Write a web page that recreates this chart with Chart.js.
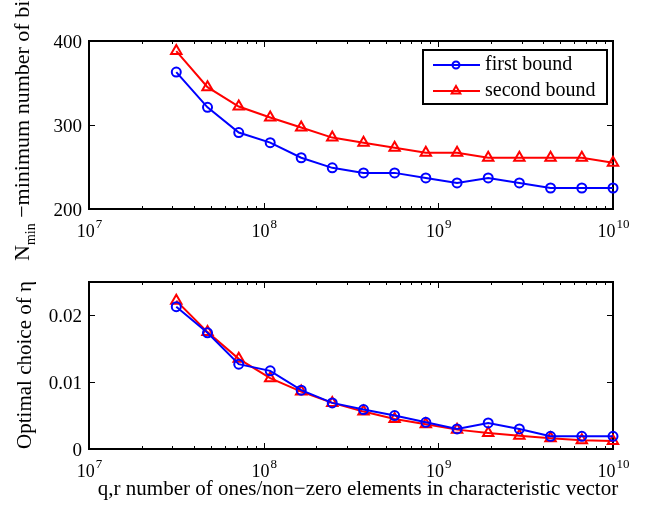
<!DOCTYPE html>
<html>
<head>
<meta charset="utf-8">
<script src="https://cdn.jsdelivr.net/npm/chart.js@4/dist/chart.umd.min.js"></script>
<style>
  html, body { margin: 0; padding: 0; background: #fff; }
  #wrap { position: relative; width: 650px; height: 508px; overflow: hidden; }
  #wrap div { position: absolute; left: 0; width: 650px; }
</style>
</head>
<body>
<div id="wrap">
  <div style="top:0;height:270px"><canvas id="topChart"></canvas></div>
  <div style="top:270px;height:238px"><canvas id="bottomChart"></canvas></div>
</div>
<script>
// q,r values (log x axis), same for both panels
const qValues = [3.16e7, 4.77e7, 7.2e7, 1.09e8, 1.64e8, 2.47e8, 3.73e8, 5.62e8,
                 8.48e8, 1.28e9, 1.93e9, 2.91e9, 4.39e9, 6.63e9, 1e10];

// top panel: N_min
const nminFirst  = [363, 321, 291, 279, 261, 249, 243, 243, 237, 231, 237, 231, 225, 225, 225];
const nminSecond = [388, 345, 322, 309, 297, 285, 279, 273, 267, 267, 261, 261, 261, 261, 255];

// bottom panel: optimal eta
const etaFirst  = [0.0213, 0.0174, 0.0127, 0.0117, 0.0088, 0.0069, 0.0059, 0.0050,
                   0.0040, 0.0030, 0.0039, 0.0030, 0.0019, 0.0019, 0.0019];
const etaSecond = [0.0222, 0.0175, 0.0135, 0.0106, 0.0086, 0.0069, 0.0056, 0.0045,
                   0.0037, 0.0029, 0.0024, 0.0020, 0.0016, 0.0013, 0.0012];

const xExponents = [7, 8, 9, 10];
const topYTicks = [200, 300, 400];
const topYLabels = ['200', '300', '400'];
const bottomYTicks = [0, 0.01, 0.02];
const bottomYLabels = ['0', '0.01', '0.02'];
const seriesNames = ['first bound', 'second bound'];

const blue = '#0000ff';
const red = '#ff0000';
const FONT = '"Liberation Serif", "Times New Roman", serif';

function pts(ys) {
    return qValues.map((q, i) => ({ x: q, y: ys[i] }));
}

function makeDataset(label, ys, color, style, radius) {
    return {
        label: label,
        data: pts(ys),
        borderColor: color,
        borderWidth: 2,
        backgroundColor: 'transparent',
        pointStyle: style,
        pointRadius: radius,
        pointBorderWidth: 2,
        pointBorderColor: color,
        pointBackgroundColor: 'transparent',
        tension: 0,
        clip: false
    };
}

// draws the matlab style box, inward ticks, tick labels, axis titles and legend
const matlabAxes = {
    id: 'matlabAxes',
    beforeDatasetsDraw(chart, args, opts) {
        const ctx = chart.ctx;
        const a = chart.chartArea;
        const xs = chart.scales.x, ys = chart.scales.y;
        ctx.save();
        ctx.strokeStyle = '#000';
        ctx.lineWidth = 2;
        ctx.strokeRect(a.left, a.top, a.right - a.left, a.bottom - a.top);

        ctx.lineWidth = 1;
        ctx.beginPath();
        // x ticks, major and minor, top and bottom
        for (let e = 7; e < 10; e++) {
            for (let m = 1; m < 10; m++) {
                const px = Math.round(xs.getPixelForValue(m * Math.pow(10, e))) + 0.5;
                const len = m == 1 ? 6 : 3;
                ctx.moveTo(px, a.bottom); ctx.lineTo(px, a.bottom - len);
                ctx.moveTo(px, a.top); ctx.lineTo(px, a.top + len);
            }
        }
        // y ticks, left and right
        opts.yTicks.forEach(v => {
            const py = Math.round(ys.getPixelForValue(v)) + 0.5;
            ctx.moveTo(a.left, py); ctx.lineTo(a.left + 6, py);
            ctx.moveTo(a.right, py); ctx.lineTo(a.right - 6, py);
        });
        ctx.stroke();

        ctx.fillStyle = '#000';
        // x tick labels 10^e
        xExponents.forEach(e => {
            const px = xs.getPixelForValue(Math.pow(10, e));
            ctx.font = '18px ' + FONT;
            const w1 = ctx.measureText('10').width;
            ctx.font = '13px ' + FONT;
            const w2 = ctx.measureText(String(e)).width;
            const x0 = px - (w1 + w2) / 2;
            ctx.textAlign = 'left';
            ctx.textBaseline = 'alphabetic';
            ctx.font = '18px ' + FONT;
            ctx.fillText('10', x0, a.bottom + 28);
            ctx.font = '13px ' + FONT;
            ctx.fillText(String(e), x0 + w1 + 1, a.bottom + 19);
        });
        // y tick labels
        ctx.font = '19px ' + FONT;
        ctx.textAlign = 'right';
        ctx.textBaseline = 'middle';
        opts.yTicks.forEach((v, i) => {
            ctx.fillText(opts.yLabels[i], a.left - 7, ys.getPixelForValue(v) + 2);
        });

        // y axis title, rotated
        ctx.save();
        ctx.translate(opts.yTitleX, opts.yTitleY);
        ctx.rotate(-Math.PI / 2);
        ctx.textBaseline = 'alphabetic';
        ctx.font = '21px ' + FONT;
        if (opts.yTitleAlign == 'left') {
            ctx.textAlign = 'left';
            let x = 0;
            opts.yTitleParts.forEach(p => {
                ctx.font = (p.sub ? '14px ' : '22px ') + FONT;
                ctx.fillText(p.t, x, p.sub ? 6 : 0);
                x += ctx.measureText(p.t).width;
            });
        } else {
            ctx.textAlign = 'center';
            ctx.fillText(opts.yTitle, 0, 0);
        }
        ctx.restore();

        // x axis title
        if (opts.xTitle) {
            ctx.font = '21px ' + FONT;
            ctx.textAlign = 'center';
            ctx.textBaseline = 'alphabetic';
            ctx.fillText(opts.xTitle, opts.xTitleX, opts.xTitleY);
        }
        ctx.restore();
    },
    afterDraw(chart, args, opts) {
        if (!opts.legend) return;
        const ctx = chart.ctx;
        const L = opts.legend;
        ctx.save();
        ctx.fillStyle = '#fff';
        ctx.fillRect(L.x, L.y, L.w, L.h);
        ctx.strokeStyle = '#000';
        ctx.lineWidth = 2;
        ctx.strokeRect(L.x, L.y, L.w, L.h);
        chart.data.datasets.forEach((ds, i) => {
            const cy = L.y + 15 + i * 26;
            ctx.strokeStyle = ds.borderColor;
            ctx.lineWidth = 2;
            ctx.beginPath();
            ctx.moveTo(L.x + 10, cy);
            ctx.lineTo(L.x + 57, cy);
            ctx.stroke();
            ctx.fillStyle = 'rgba(0,0,0,0)';
            Chart.helpers.drawPoint(ctx, {
                pointStyle: ds.pointStyle,
                radius: ds.pointRadius - 1,
                borderWidth: 2,
                rotation: 0
            }, L.x + 33, cy);
            ctx.fillStyle = '#000';
            ctx.font = '20px ' + FONT;
            ctx.textAlign = 'left';
            ctx.textBaseline = 'middle';
            ctx.fillText(ds.label, L.x + 62, cy);
        });
        ctx.restore();
    }
};

function baseOptions(padTop, padBottom, yMin, yMax, axisOpts) {
    return {
        responsive: true,
        maintainAspectRatio: false,
        animation: false,
        layout: { padding: { left: 89, right: 37, top: padTop, bottom: padBottom } },
        scales: {
            x: { type: 'logarithmic', min: 1e7, max: 1e10, display: false },
            y: { type: 'linear', min: yMin, max: yMax, display: false }
        },
        plugins: {
            legend: { display: false },
            tooltip: { enabled: false },
            matlabAxes: axisOpts
        }
    };
}

new Chart(document.getElementById('topChart'), {
    type: 'line',
    data: {
        datasets: [
            makeDataset(seriesNames[0], nminFirst, blue, 'circle', 4.5),
            makeDataset(seriesNames[1], nminSecond, red, 'triangle', 6)
        ]
    },
    options: baseOptions(41, 61, 200, 400, {
        yTicks: topYTicks,
        yLabels: topYLabels,
        yTitleAlign: 'left',
        yTitleX: 29,
        yTitleY: 261,
        yTitleParts: [{ t: 'N' }, { t: 'min', sub: true }, { t: ' \u2212minimum number of bits' }],
        legend: { x: 423, y: 50, w: 184, h: 54 }
    }),
    plugins: [matlabAxes]
});

new Chart(document.getElementById('bottomChart'), {
    type: 'line',
    data: {
        datasets: [
            makeDataset(seriesNames[0], etaFirst, blue, 'circle', 4.5),
            makeDataset(seriesNames[1], etaSecond, red, 'triangle', 6)
        ]
    },
    options: baseOptions(12, 59, 0, 0.025, {
        yTicks: bottomYTicks,
        yLabels: bottomYLabels,
        yTitleAlign: 'center',
        yTitleX: 31,
        yTitleY: 95,
        yTitle: 'Optimal choice of \u03b7',
        xTitle: 'q,r number of ones/non\u2212zero elements in characteristic vector',
        xTitleX: 358,
        xTitleY: 225
    }),
    plugins: [matlabAxes]
});
</script>
</body>
</html>
